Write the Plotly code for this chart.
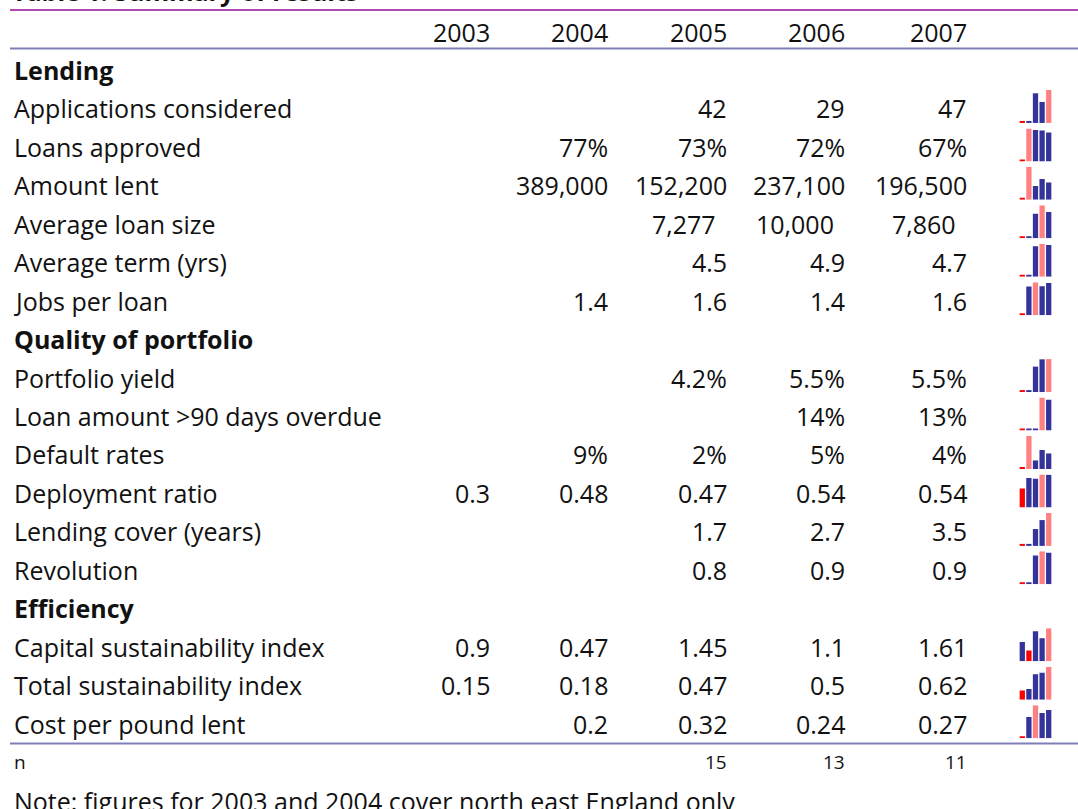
import plotly.graph_objects as go

# ---------------- data ----------------
title_text = "Table 1: Summary of results"
years = ["2003", "2004", "2005", "2006", "2007"]

section_lending = "Lending"
section_quality = "Quality of portfolio"
section_efficiency = "Efficiency"

row_labels = [
    "Applications considered", "Loans approved", "Amount lent", "Average loan size",
    "Average term (yrs)", "Jobs per loan",
    "Portfolio yield", "Loan amount >90 days overdue", "Default rates", "Deployment ratio",
    "Lending cover (years)", "Revolution",
    "Capital sustainability index", "Total sustainability index", "Cost per pound lent",
]

applications = [None, None, 42, 29, 47]
loans_approved = [None, 0.77, 0.73, 0.72, 0.67]
amount_lent = [None, 389000, 152200, 237100, 196500]
avg_loan_size = [None, None, 7277, 10000, 7860]
avg_term = [None, None, 4.5, 4.9, 4.7]
jobs_per_loan = [None, 1.4, 1.62, 1.41, 1.58]
portfolio_yield = [None, None, 0.042, 0.0548, 0.0552]
overdue_90 = [None, None, None, 0.14, 0.13]
default_rates = [None, 0.09, 0.02, 0.05, 0.04]
deployment_ratio = [0.30, 0.48, 0.47, 0.543, 0.537]
lending_cover = [None, None, 1.7, 2.7, 3.5]
revolution = [None, None, 0.8, 0.92, 0.88]
capital_si = [0.9, 0.47, 1.45, 1.1, 1.61]
total_si = [0.15, 0.18, 0.47, 0.5, 0.62]
cost_per_pound = [None, 0.2, 0.32, 0.24, 0.27]

n_counts = [None, None, 15, 13, 11]
note_text = "Note: figures for 2003 and 2004 cover north east England only"

row_values = [applications, loans_approved, amount_lent, avg_loan_size, avg_term,
              jobs_per_loan, portfolio_yield, overdue_90, default_rates, deployment_ratio,
              lending_cover, revolution, capital_si, total_si, cost_per_pound]
row_formats = ["int", "pct0", "comma", "comma", "d1", "d1", "pct1", "pct0", "pct0", "d2",
               "d1", "d1", "d2", "d2", "d2"]

# ---------------- styling ----------------
W, H = 1078, 809
FONT = "Open Sans, Lato, sans-serif"
FS = 25
FS_N = 19
TXT = "#111111"
NAVY = "#333399"
PINK = "#FF8080"
RED = "#FF0000"
TOP_LINE = "#B04AB0"
RULE = "#7F7FB5"

ROW0, ROWSTEP = 70.0, 38.45
LABEL_X = 12
col_right = [492, 610, 729, 847, 969]
row_xshift = [0, 0, 0, -11, 0, 0, 0, 0, 0, 0, 0, 0, 0, 0, 0]
row_k = [1, 2, 3, 4, 5, 6, 8, 9, 10, 11, 12, 13, 15, 16, 17]
section_k = {section_lending: 0, section_quality: 7, section_efficiency: 14}


def cy(k):
    return ROW0 + ROWSTEP * k


def px(x):
    return x / W


def py(y):
    return 1 - y / H


def fmt(v, kind):
    if v is None:
        return ""
    if kind == "int":
        return f"{v:.0f}"
    if kind == "comma":
        return f"{v:,.0f}"
    if kind == "pct0":
        return f"{v * 100:.0f}%"
    if kind == "pct1":
        return f"{v * 100:.1f}%"
    if kind == "d1":
        return f"{v:.1f}"
    if kind == "d2":
        s = f"{v:.2f}"
        return s.rstrip("0").rstrip(".") if "." in s else s
    return str(v)


fig = go.Figure()
annotations = []
shapes = []
layout_axes = {}


def add_text(text, x, y, anchor="left", size=FS, bold=False, color=TXT, xshift=0):
    annotations.append(dict(
        text=f"<b>{text}</b>" if bold else text,
        x=px(x), y=py(y), xref="paper", yref="paper",
        xanchor=anchor, yanchor="middle", showarrow=False, xshift=xshift,
        font=dict(family=FONT, size=size, color=color),
    ))


# title (cut off at the top edge, as in the source)
annotations.append(dict(
    text=f"<b>{title_text}</b>", x=px(LABEL_X - 2), y=py(10), xref="paper", yref="paper",
    xanchor="left", yanchor="bottom", showarrow=False,
    font=dict(family=FONT, size=FS, color=TXT),
))

# header years
for j, yr in enumerate(years):
    add_text(yr, col_right[j], cy(-1), anchor="right")

# section headers
for name, k in section_k.items():
    add_text(name, LABEL_X, cy(k), bold=True)

# data rows
for i, (label, vals, kind) in enumerate(zip(row_labels, row_values, row_formats)):
    k = row_k[i]
    add_text(label, LABEL_X, cy(k))
    for j, v in enumerate(vals):
        s = fmt(v, kind)
        if s:
            add_text(s, col_right[j], cy(k), anchor="right", xshift=row_xshift[i])

    # sparkline column
    filled = [0 if v is None else v for v in vals]
    vmax = max(filled)
    eps = 0.05 * vmax
    imin = filled.index(min(filled))
    imax = filled.index(vmax)
    colors = [NAVY] * len(filled)
    colors[imin] = RED
    colors[imax] = PINK
    n = i + 1
    xa = "x" if n == 1 else f"x{n}"
    ya = "y" if n == 1 else f"y{n}"
    fig.add_trace(go.Bar(
        x=list(range(len(filled))), y=[f + eps for f in filled], base=[-eps] * len(filled),
        marker=dict(color=colors, line=dict(width=0)),
        xaxis=xa, yaxis=ya, showlegend=False, hoverinfo="skip",
    ))
    xkey = "xaxis" if n == 1 else f"xaxis{n}"
    ykey = "yaxis" if n == 1 else f"yaxis{n}"
    layout_axes[xkey] = dict(domain=[px(1019), px(1052)], range=[-0.5, len(filled) - 0.5],
                             visible=False, anchor=ya, fixedrange=True)
    layout_axes[ykey] = dict(domain=[py(cy(k) + 14.5), py(cy(k) - 18.5)], range=[-eps, vmax],
                             visible=False, anchor=xa, fixedrange=True)

# n row
add_text("n", LABEL_X, cy(18), size=FS_N)
for j, v in enumerate(n_counts):
    if v is not None:
        add_text(str(v), col_right[j], cy(18), anchor="right", size=FS_N)

# note
add_text(note_text, LABEL_X, cy(19))

# rules
shapes.append(dict(type="line", xref="paper", yref="paper", x0=px(10), x1=1, y0=py(10), y1=py(10),
                   line=dict(color=TOP_LINE, width=2)))
shapes.append(dict(type="line", xref="paper", yref="paper", x0=px(10), x1=1, y0=py(48.5), y1=py(48.5),
                   line=dict(color=RULE, width=2)))
shapes.append(dict(type="line", xref="paper", yref="paper", x0=px(10), x1=1, y0=py(743.5), y1=py(743.5),
                   line=dict(color=RULE, width=2)))

fig.update_layout(
    width=W, height=H, margin=dict(l=0, r=0, t=0, b=0),
    paper_bgcolor="white", plot_bgcolor="white",
    bargap=0.2, showlegend=False,
    annotations=annotations, shapes=shapes,
    **layout_axes,
)

fig.write_html(
    "out.html",
    config={"displayModeBar": False},
    post_script="document.body.style.margin='0px';document.body.style.overflow='hidden';",
)
